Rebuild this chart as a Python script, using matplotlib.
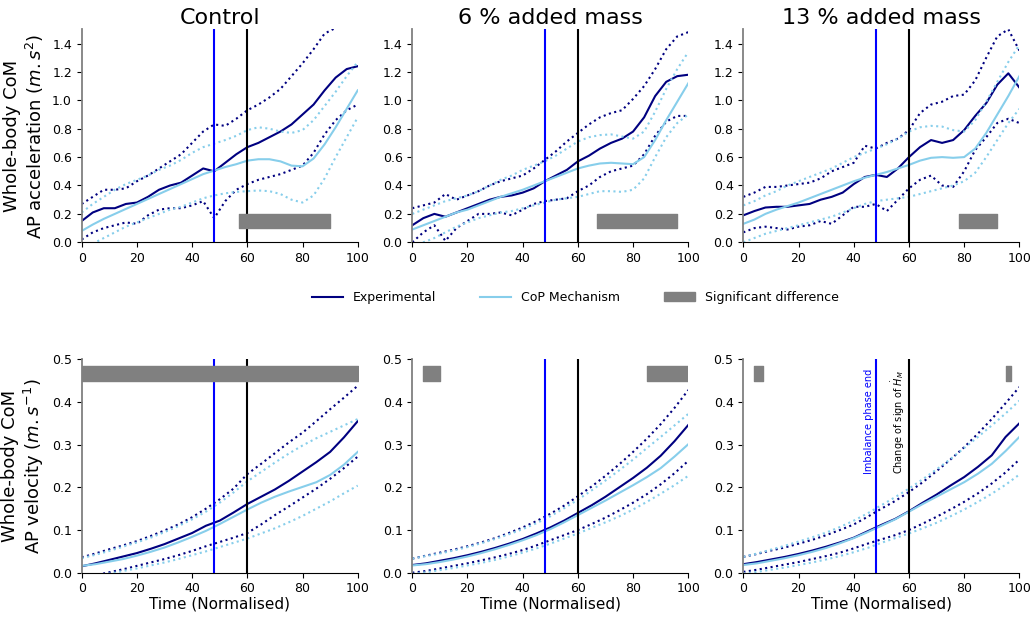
import matplotlib
matplotlib.use("Agg")
import matplotlib.pyplot as plt
from matplotlib.patches import Patch
from matplotlib.lines import Line2D

titles = ["Control", "6 % added mass", "13 % added mass"]

# time axes
t_acc = [0, 4, 8, 12, 16, 20, 24, 28, 32, 36, 40, 44, 48, 52, 56, 60, 64, 68, 72, 76, 80, 84, 88, 92, 96, 100]
t_vel = [0, 5, 10, 15, 20, 25, 30, 35, 40, 45, 50, 55, 60, 65, 70, 75, 80, 85, 90, 95, 100]

# ---------------- acceleration: Control ----------------
acc_c_exp = [.15, .21, .24, .24, .27, .28, .32, .37, .40, .42, .47, .52, .50, .56, .62, .67, .70, .74, .78, .83, .90, .97, 1.07, 1.16, 1.22, 1.24]
acc_c_exp_hi = [.27, .32, .37, .37, .38, .43, .47, .52, .57, .62, .70, .78, .83, .82, .87, .93, .97, 1.02, 1.08, 1.17, 1.26, 1.36, 1.47, 1.51, 1.51, 1.51]
acc_c_exp_lo = [.02, .07, .10, .12, .14, .13, .19, .23, .24, .24, .26, .29, .17, .29, .37, .41, .44, .46, .48, .51, .54, .63, .76, .86, .93, .97]
acc_c_cop = [.08, .125, .165, .20, .235, .27, .305, .34, .375, .41, .445, .48, .505, .53, .55, .575, .585, .585, .57, .54, .535, .59, .69, .81, .94, 1.07]
acc_c_cop_hi = [.21, .27, .32, .37, .41, .44, .47, .51, .54, .58, .63, .67, .695, .72, .75, .79, .81, .80, .78, .77, .79, .86, .96, 1.06, 1.17, 1.27]
acc_c_cop_lo = [-.03, -.01, .03, .07, .11, .14, .17, .20, .23, .25, .28, .31, .33, .345, .355, .36, .365, .36, .34, .30, .28, .33, .45, .60, .74, .88]

# ---------------- acceleration: 6 % ----------------
acc_6_exp = [.12, .17, .20, .18, .21, .24, .27, .30, .32, .33, .35, .38, .43, .47, .51, .57, .61, .66, .70, .73, .78, .88, 1.03, 1.13, 1.17, 1.18]
acc_6_exp_hi = [.24, .26, .28, .34, .30, .33, .36, .40, .43, .45, .47, .52, .58, .64, .71, .77, .83, .88, .91, .93, 1.01, 1.10, 1.22, 1.36, 1.45, 1.48]
acc_6_exp_lo = [.00, .07, .12, .01, .10, .15, .20, .20, .21, .19, .23, .27, .29, .30, .31, .36, .40, .46, .50, .52, .54, .62, .75, .85, .89, .89]
acc_6_cop = [.09, .12, .15, .18, .21, .23, .26, .29, .32, .345, .37, .40, .43, .46, .49, .52, .54, .555, .56, .555, .55, .60, .72, .86, .99, 1.12]
acc_6_cop_hi = [.20, .23, .26, .29, .31, .33, .36, .40, .44, .47, .51, .54, .57, .61, .66, .71, .74, .755, .76, .745, .73, .78, .92, 1.08, 1.22, 1.34]
acc_6_cop_lo = [-.02, .00, .03, .07, .11, .14, .17, .19, .21, .22, .24, .26, .28, .30, .31, .32, .34, .36, .36, .355, .37, .45, .60, .74, .84, .90]

# ---------------- acceleration: 13 % ----------------
acc_13_exp = [.19, .22, .245, .25, .25, .26, .27, .30, .32, .35, .41, .46, .475, .46, .52, .60, .67, .72, .70, .72, .79, .89, .98, 1.11, 1.19, 1.09]
acc_13_exp_hi = [.32, .35, .39, .39, .40, .41, .42, .45, .50, .53, .56, .68, .66, .70, .73, .79, .91, .97, .99, 1.03, 1.04, 1.14, 1.30, 1.45, 1.50, 1.35]
acc_13_exp_lo = [.07, .10, .11, .10, .09, .11, .12, .15, .13, .19, .25, .25, .27, .22, .30, .38, .44, .47, .40, .39, .50, .65, .74, .84, .87, .84]
acc_13_cop = [.13, .16, .20, .23, .255, .28, .31, .34, .37, .40, .43, .455, .475, .495, .52, .545, .575, .595, .60, .595, .60, .66, .77, .90, 1.03, 1.17]
acc_13_cop_hi = [.26, .29, .33, .36, .40, .43, .46, .49, .52, .56, .60, .63, .66, .69, .73, .78, .81, .82, .815, .79, .78, .86, .99, 1.13, 1.27, 1.39]
acc_13_cop_lo = [.00, .03, .06, .08, .10, .12, .14, .16, .18, .21, .24, .27, .29, .30, .31, .32, .34, .36, .38, .40, .43, .49, .60, .72, .84, .94]

# ---------------- velocity: Control ----------------
vel_c_exp = [.015, .022, .030, .038, .046, .056, .067, .080, .093, .110, .122, .141, .161, .178, .195, .215, .237, .259, .283, .317, .355]
vel_c_exp_hi = [.036, .045, .055, .064, .074, .086, .099, .113, .130, .150, .172, .197, .231, .255, .280, .305, .328, .355, .383, .410, .438]
vel_c_exp_lo = [-.015, -.006, .001, .008, .016, .024, .032, .041, .051, .062, .072, .082, .093, .113, .135, .155, .176, .197, .220, .245, .272]
vel_c_cop = [.016, .020, .026, .032, .040, .049, .059, .071, .084, .098, .114, .131, .148, .164, .178, .190, .201, .212, .229, .253, .283]
vel_c_cop_hi = [.034, .042, .051, .061, .071, .082, .095, .109, .125, .143, .164, .188, .214, .236, .258, .279, .298, .315, .330, .345, .360]
vel_c_cop_lo = [-.02, -.01, -.002, .004, .010, .017, .024, .032, .041, .050, .060, .070, .080, .092, .104, .118, .133, .150, .167, .186, .204]

# ---------------- velocity: 6 % ----------------
vel_6_exp = [.018, .022, .028, .034, .041, .049, .058, .068, .079, .092, .106, .122, .140, .158, .178, .200, .222, .246, .274, .308, .346]
vel_6_exp_hi = [.033, .040, .047, .054, .062, .071, .081, .093, .106, .121, .138, .157, .179, .202, .227, .254, .283, .314, .348, .386, .428]
vel_6_exp_lo = [.000, .004, .010, .016, .022, .029, .036, .044, .053, .064, .076, .088, .100, .114, .129, .146, .164, .184, .207, .233, .262]
vel_6_cop = [.017, .020, .025, .031, .038, .046, .055, .065, .076, .088, .102, .118, .135, .152, .169, .187, .205, .224, .245, .272, .301]
vel_6_cop_hi = [.033, .039, .045, .052, .060, .069, .079, .090, .102, .116, .132, .151, .171, .193, .216, .240, .265, .292, .318, .345, .372]
vel_6_cop_lo = [-.003, .001, .006, .011, .017, .023, .030, .038, .047, .057, .068, .080, .092, .105, .118, .132, .148, .166, .185, .205, .227]

# ---------------- velocity: 13 % ----------------
vel_13_exp = [.020, .025, .031, .037, .044, .052, .061, .071, .082, .097, .112, .126, .144, .164, .183, .204, .224, .248, .275, .318, .350]
vel_13_exp_hi = [.037, .044, .052, .059, .068, .077, .088, .100, .113, .131, .150, .168, .189, .212, .238, .265, .294, .326, .360, .397, .435]
vel_13_exp_lo = [.002, .007, .013, .019, .025, .032, .039, .047, .057, .068, .078, .088, .100, .115, .131, .148, .166, .186, .209, .235, .265]
vel_13_cop = [.018, .022, .028, .034, .041, .049, .058, .069, .081, .095, .110, .125, .143, .161, .178, .195, .212, .232, .255, .285, .318]
vel_13_cop_hi = [.037, .045, .054, .063, .073, .083, .094, .107, .122, .139, .158, .177, .197, .219, .242, .266, .292, .318, .345, .373, .403]
vel_13_cop_lo = [-.002, .002, .007, .012, .018, .024, .031, .039, .048, .058, .070, .081, .092, .104, .117, .132, .148, .166, .185, .206, .230]

# significant-difference intervals (start, end)
sig_acc = [[(57, 90)], [(67, 96)], [(78, 92)]]
sig_vel = [[(0, 100)], [(4, 10), (85, 100)], [(4, 7), (95, 97)]]
sig_acc_band = (0.10, 0.20)
sig_vel_band = (0.45, 0.485)

imbalance_end = 48
sign_change = 60

acc_sets = [
    (acc_c_exp, acc_c_exp_hi, acc_c_exp_lo, acc_c_cop, acc_c_cop_hi, acc_c_cop_lo),
    (acc_6_exp, acc_6_exp_hi, acc_6_exp_lo, acc_6_cop, acc_6_cop_hi, acc_6_cop_lo),
    (acc_13_exp, acc_13_exp_hi, acc_13_exp_lo, acc_13_cop, acc_13_cop_hi, acc_13_cop_lo),
]
vel_sets = [
    (vel_c_exp, vel_c_exp_hi, vel_c_exp_lo, vel_c_cop, vel_c_cop_hi, vel_c_cop_lo),
    (vel_6_exp, vel_6_exp_hi, vel_6_exp_lo, vel_6_cop, vel_6_cop_hi, vel_6_cop_lo),
    (vel_13_exp, vel_13_exp_hi, vel_13_exp_lo, vel_13_cop, vel_13_cop_hi, vel_13_cop_lo),
]

EXP_C = "navy"
COP_C = "skyblue"
SIG_C = "grey"

fig = plt.figure(figsize=(10.33, 6.17), dpi=100)
lefts = [0.0791, 0.3991, 0.7196]
w = 0.2672
top_b, top_h = 0.6073, 0.3452
bot_b, bot_h = 0.0718, 0.3459


def style(ax):
    ax.spines["top"].set_visible(False)
    ax.spines["right"].set_visible(False)
    ax.spines["left"].set_color("#808080")
    ax.spines["left"].set_linewidth(1.3)
    ax.tick_params(labelsize=9, length=3.5)
    ax.set_xlim(0, 100)
    ax.set_xticks([0, 20, 40, 60, 80, 100])


def draw(ax, t, data):
    exp, exp_hi, exp_lo, cop, cop_hi, cop_lo = data
    ax.plot(t, exp, color=EXP_C, lw=1.5)
    ax.plot(t, exp_hi, color=EXP_C, lw=1.5, ls=":")
    ax.plot(t, exp_lo, color=EXP_C, lw=1.5, ls=":")
    ax.plot(t, cop, color=COP_C, lw=1.5)
    ax.plot(t, cop_hi, color=COP_C, lw=1.5, ls=":")
    ax.plot(t, cop_lo, color=COP_C, lw=1.5, ls=":")
    ax.axvline(imbalance_end, color="blue", lw=1.5)
    ax.axvline(sign_change, color="black", lw=1.5)


for i in range(3):
    ax = fig.add_axes([lefts[i], top_b, w, top_h])
    style(ax)
    draw(ax, t_acc, acc_sets[i])
    ax.broken_barh([(s, e - s) for s, e in sig_acc[i]],
                   (sig_acc_band[0], sig_acc_band[1] - sig_acc_band[0]), color=SIG_C, zorder=3)
    ax.set_ylim(0, 1.5)
    ax.set_yticks([0.0, 0.2, 0.4, 0.6, 0.8, 1.0, 1.2, 1.4])
    ax.set_title(titles[i], fontsize=16, pad=4)
    if i == 0:
        ax.set_ylabel("Whole-body CoM\nAP acceleration ($m.s^{2}$)", fontsize=13)

    ax2 = fig.add_axes([lefts[i], bot_b, w, bot_h])
    style(ax2)
    draw(ax2, t_vel, vel_sets[i])
    ax2.broken_barh([(s, e - s) for s, e in sig_vel[i]],
                    (sig_vel_band[0], sig_vel_band[1] - sig_vel_band[0]), color=SIG_C, zorder=3)
    ax2.set_ylim(0, 0.5)
    ax2.set_yticks([0.0, 0.1, 0.2, 0.3, 0.4, 0.5])
    ax2.set_xlabel("Time (Normalised)", fontsize=11, labelpad=1)
    if i == 0:
        ax2.set_ylabel("Whole-body CoM\nAP velocity ($m.s^{-1}$)", fontsize=13)
    if i == 2:
        ax2.text(imbalance_end - 0.8, 0.232, "Imbalance phase end", color="blue",
                 rotation=90, ha="right", va="bottom", fontsize=7)
        ax2.text(sign_change - 0.8, 0.232, r"Change of sign of $\dot{H}_M$", color="black",
                 rotation=90, ha="right", va="bottom", fontsize=7)

handles = [Line2D([], [], color=EXP_C, lw=1.5),
           Line2D([], [], color=COP_C, lw=1.5),
           Patch(color=SIG_C)]
fig.legend(handles, ["Experimental", "CoP Mechanism", "Significant difference"],
           loc="center", bbox_to_anchor=(0.557, 0.518), ncol=3, frameon=False,
           fontsize=9, columnspacing=3.5, handlelength=2.5)

fig.savefig("out.png", dpi=100)
